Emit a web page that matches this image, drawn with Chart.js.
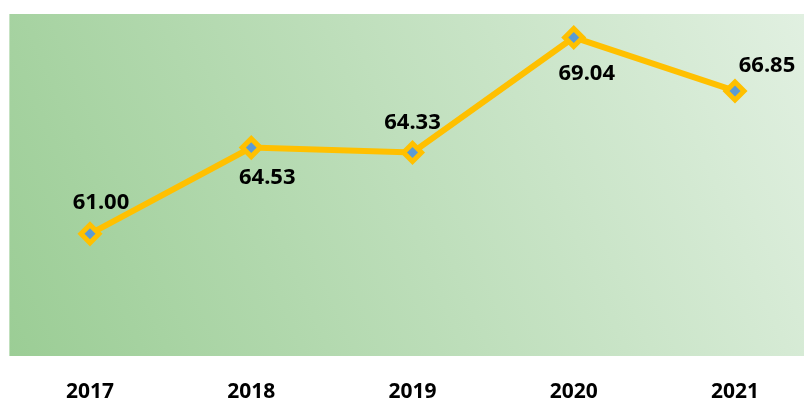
<!DOCTYPE html>
<html>
<head>
<meta charset="utf-8">
<script src="https://cdn.jsdelivr.net/npm/chart.js@4"></script>
<style>
  html, body { margin: 0; padding: 0; background: #fff; }
  #wrap { width: 804px; height: 400px; position: relative; }
</style>
</head>
<body>
<div id="wrap"><canvas id="chart"></canvas></div>
<script>
const years = ["2017", "2018", "2019", "2020", "2021"];
const values = [61.00, 64.53, 64.33, 69.04, 66.85];
const yMin = 56;
const yMax = 70;

// label offsets from each point (px)
const labelOffsets = [[11, -31], [16, 30], [0, -30], [13, 36], [32, -25]];

const canvas = document.getElementById("chart");
const ctx = canvas.getContext("2d");

// green gradient panel behind the plot, half a category wider on the left
const panelPlugin = {
    id: "panel",
    beforeDraw(chart) {
        const area = chart.chartArea;
        const step = (area.right - area.left) / (years.length - 1);
        const left = area.left - step / 2;
        const right = chart.width;
        const c = chart.ctx;
        const grad = c.createLinearGradient(left, area.bottom, right, area.top);
        grad.addColorStop(0, "#9bcd95");
        grad.addColorStop(1, "#e1f0e1");
        c.save();
        c.fillStyle = grad;
        c.fillRect(left, area.top, right - left, area.bottom - area.top);
        c.restore();
    }
};

const valueLabels = {
    id: "valueLabels",
    afterDatasetsDraw(chart) {
        const c = chart.ctx;
        const meta = chart.getDatasetMeta(0);
        c.save();
        c.font = "bold 22px 'Noto Sans'";
        c.fillStyle = "#000";
        c.textAlign = "center";
        c.textBaseline = "middle";
        meta.data.forEach((pt, i) => {
            const off = labelOffsets[i];
            c.fillText(values[i].toFixed(2), pt.x + off[0], pt.y + off[1]);
        });
        c.restore();
    }
};

new Chart(ctx, {
    type: "line",
    data: {
        labels: years,
        datasets: [{
            data: values,
            borderColor: "#ffc000",
            borderWidth: 6,
            tension: 0,
            pointStyle: "rectRot",
            pointRadius: 9,
            pointBorderWidth: 5,
            pointBackgroundColor: "#5b9bd5",
            pointBorderColor: "#ffc000",
            clip: false
        }]
    },
    options: {
        responsive: true,
        maintainAspectRatio: false,
        animation: false,
        layout: { padding: { left: 90, right: 69, top: 12, bottom: 0 } },
        plugins: {
            legend: { display: false },
            tooltip: { enabled: false }
        },
        scales: {
            x: {
                offset: false,
                grid: { display: false, drawTicks: false },
                border: { display: false },
                ticks: {
                    color: "#000",
                    padding: 23,
                    font: { family: "'Noto Sans'", size: 21, weight: "bold" }
                },
                afterFit(scale) { scale.height = 44; }
            },
            y: {
                display: false,
                min: yMin,
                max: yMax
            }
        }
    },
    plugins: [panelPlugin, valueLabels]
});
</script>
</body>
</html>
